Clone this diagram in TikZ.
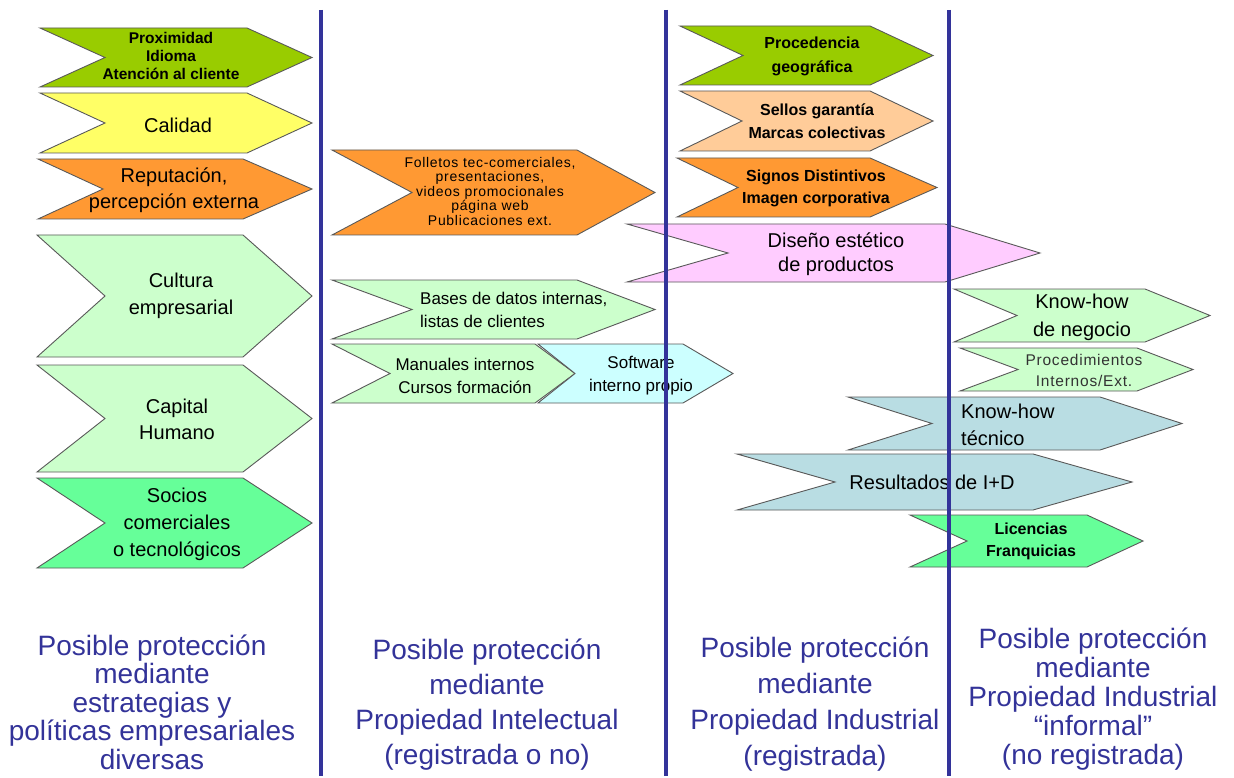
\documentclass[tikz,border=0pt]{standalone}
\usepackage{fontspec}
\setmainfont{Liberation Sans}
\newfontfamily\spacedfont[LetterSpace=5]{Liberation Sans}
\definecolor{cyg}{HTML}{99CC00}
\definecolor{cyel}{HTML}{FFFF66}
\definecolor{corg}{HTML}{FF9933}
\definecolor{clg}{HTML}{CCFFCC}
\definecolor{cmg}{HTML}{66FF99}
\definecolor{cpeach}{HTML}{FFCC99}
\definecolor{cpink}{HTML}{FFCCFF}
\definecolor{ccyan}{HTML}{CCFFFF}
\definecolor{cblu}{HTML}{B9DDE3}
\definecolor{vline}{HTML}{33339A}
\definecolor{tblue}{HTML}{333399}
\newcommand\chevron[7]{%
  \draw[chevstyle, fill=#1] (#2,#6) -- (#4,#6) -- (#5,{(#6+#7)/2}) -- (#4,#7) -- (#2,#7) -- (#3,{(#6+#7)/2}) -- cycle;}
\begin{document}
\begin{tikzpicture}[x=1pt,y=-1pt,
  chevstyle/.style={draw=black!65, line width=0.9pt, line join=miter},
  lbl/.style={align=center, inner sep=0pt, text=black},
  big/.style={lbl, font=\fontsize{20}{27}\selectfont},
  mid/.style={lbl, font=\fontsize{17}{23}\selectfont},
  bsm/.style={lbl, font=\bfseries\fontsize{16}{23}\selectfont},
  foot/.style={align=center, inner sep=0pt, text=tblue},
  sep/.style={draw=vline, line width=4pt}]
\useasboundingbox[fill=white] (0,0) rectangle (1234,778);

% column 1
\chevron{cyg}{40}{105}{247}{312}{28}{87}
\chevron{cyel}{40}{105}{247}{312}{93}{153}
\chevron{corg}{38}{103}{243}{312}{159}{219}
\chevron{clg}{37}{105}{243}{312}{235}{357}
\chevron{clg}{37}{105}{243}{312}{365}{472}
\chevron{cmg}{37}{105}{243}{312}{478}{568}
% column 2
\chevron{corg}{332}{412}{577}{655}{150}{235}
\chevron{clg}{332}{412}{577}{655}{280}{339}
\chevron{clg}{332}{390}{535}{575}{344}{403}
\chevron{ccyan}{538}{575}{683}{733}{344}{403}
% column 3
\chevron{cyg}{680}{743}{870}{933}{26}{85}
\chevron{cpeach}{680}{742}{870}{933}{91}{151}
\chevron{corg}{677}{738}{870}{937}{158}{217}
\chevron{cpink}{627}{728}{945}{1040}{224}{282}
% column 4
\chevron{clg}{954}{1017}{1145}{1210}{289}{342}
\chevron{clg}{960}{1018}{1137}{1193}{348}{391}
\chevron{cblu}{848}{932}{1100}{1182}{397}{450}
\chevron{cblu}{737}{835}{1033}{1132}{454}{510}
\chevron{cmg}{910}{967}{1087}{1143}{515}{567}

% labels column 1
\node[lbl, font=\bfseries\fontsize{15.5}{18}\selectfont] (t1) at (171,56) {Proximidad\\Idioma\\Atención al cliente};
\node[big] (t2) at (178,125) {Calidad};
\node[big, font=\fontsize{20}{26}\selectfont] (t3) at (174,190) {Reputación,\\percepción externa};
\node[big] (t4) at (181,296) {Cultura\\empresarial};
\node[big, font=\fontsize{20}{26}\selectfont] (t5) at (177,419) {Capital\\Humano};
\node[big] (t6) at (177,524) {Socios\\comerciales\\o tecnológicos};
% labels column 2
\node[lbl, font=\spacedfont\fontsize{14}{14.5}\selectfont] (t7) at (490,191) {Folletos tec-comerciales,\\presentaciones,\\videos promocionales\\página web\\Publicaciones ext.};
\node[mid, align=left, anchor=west] (t8) at (420,310) {Bases de datos internas,\\listas de clientes};
\node[mid] (t9) at (465,376) {Manuales internos\\Cursos formación};
\node[mid] (t10) at (641,376) {Software\\interno propio};
% labels column 3
\node[bsm, font=\bfseries\fontsize{16}{24}\selectfont] (t11) at (812,56) {Procedencia\\geográfica};
\node[bsm] (t12) at (817,121) {Sellos garantía\\Marcas colectivas};
\node[bsm, font=\bfseries\fontsize{16}{22}\selectfont] (t13) at (816,188) {Signos Distintivos\\Imagen corporativa};
\node[big, font=\fontsize{20}{24}\selectfont] (t14) at (836,254) {Diseño estético\\de productos};
% labels column 4
\node[big, font=\fontsize{20}{28}\selectfont] (t15) at (1082,317) {Know-how\\de negocio};
\node[lbl, text=black!80, font=\spacedfont\fontsize{15.5}{21}\selectfont] (t16) at (1084,370) {Procedimientos\\Internos/Ext.};
\node[big, align=left, anchor=west] (t17) at (961,425) {Know-how\\técnico};
\node[big] (t18) at (932,482) {Resultados de I+D};
\node[bsm, font=\bfseries\fontsize{16}{22}\selectfont] (t19) at (1031,541) {Licencias\\Franquicias};

% footers
\node[foot, font=\fontsize{28}{28.5}\selectfont] (f1) at (152,702) {Posible protección\\mediante\\estrategias y\\políticas empresariales\\diversas};
\node[foot, font=\fontsize{28}{35}\selectfont] (f2) at (487,705) {Posible protección\\mediante\\Propiedad Intelectual\\(registrada o no)};
\node[foot, font=\fontsize{28}{36}\selectfont] (f3) at (815,704) {Posible protección\\mediante\\Propiedad Industrial\\(registrada)};
\node[foot, font=\fontsize{28}{29}\selectfont] (f4) at (1093,699) {Posible protección\\mediante\\Propiedad Industrial\\“informal”\\(no registrada)};

% separators
\coordinate (s1t) at (321,10); \coordinate (s1b) at (321,776);
\coordinate (s2t) at (666,10); \coordinate (s2b) at (666,776);
\coordinate (s3t) at (949,10); \coordinate (s3b) at (949,776);
\draw[sep] (s1t) -- (s1b);
\draw[sep] (s2t) -- (s2b);
\draw[sep] (s3t) -- (s3b);
\end{tikzpicture}
\end{document}
